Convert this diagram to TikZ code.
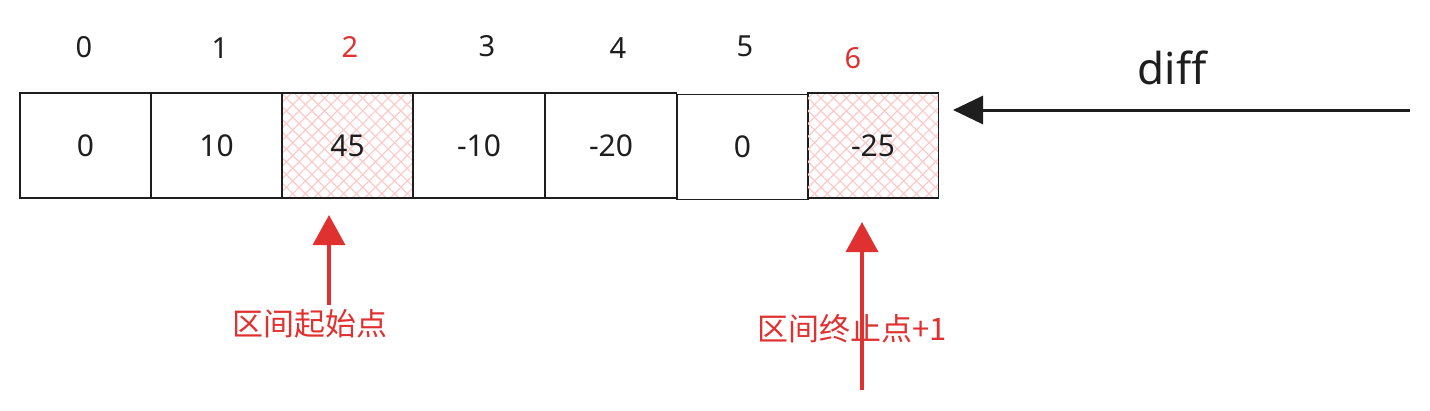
\documentclass[tikz,border=0pt]{standalone}
\usepackage{fontspec}
\setmainfont{Noto Sans}
\newfontfamily\cjk{Noto Sans CJK SC}
\usetikzlibrary{arrows.meta,patterns.meta}
\definecolor{exred}{HTML}{E03131}
\definecolor{hatch}{HTML}{FFC9C9}
\definecolor{ink}{HTML}{1E1E1E}
\tikzset{
  cell/.style={draw=ink,line width=1.8pt,minimum width=131pt,minimum height=105pt,inner sep=0pt,font=\fontsize{30}{34}\selectfont,text=ink},
  idx/.style={font=\fontsize{29}{34}\selectfont,text=ink},
  redidx/.style={font=\fontsize{29}{34}\selectfont,text=exred},
  redlbl/.style={font=\cjk\fontsize{31}{36}\selectfont,text=exred},
  redarrow/.style={draw=exred,line width=3.5pt,-{Triangle[length=30pt,width=32pt]}},
  blackarrow/.style={draw=ink,line width=3pt,-{Triangle[length=30pt,width=28pt]}},
  hatched/.style={preaction={pattern={Lines[angle=45,distance=9pt,line width=1.2pt]},pattern color=hatch},
                  preaction={pattern={Lines[angle=-45,distance=9pt,line width=1.2pt]},pattern color=hatch}}
}
\begin{document}
\begin{tikzpicture}[x=1pt,y=-1pt]
\useasboundingbox (0,0) rectangle (1430,410);
% cells
\node[cell] (c0) at (85.5,145.5) {0};
\node[cell] (c1) at (216.5,145.5) {10};
\node[cell,hatched] (c2) at (347.5,145.5) {45};
\node[cell] (c3) at (479,145.5) {-10};
\node[cell] (c4) at (611,145.5) {-20};
\node[cell] (c5) at (742.5,147) {0};
\node[cell,hatched] (c6) at (873,145.5) {-25};
% indices
\node[idx] (i0) at (84,47) {0};
\node[idx] (i1) at (220,48) {1};
\node[redidx] (i2) at (350,47) {2};
\node[idx] (i3) at (487,46) {3};
\node[idx] (i4) at (618,48) {4};
\node[idx] (i5) at (745,46) {5};
\node[redidx] (i6) at (853,58) {6};
% diff
\node[font=\fontsize{44}{50}\selectfont,text=ink] (diff) at (1172,68) {diff};
\coordinate (dstart) at (1410,110);
\coordinate (dend) at (953,110);
\draw[blackarrow] (dstart) -- (dend);
% red arrows
\coordinate (a1s) at (329,305);
\coordinate (a1e) at (329,215);
\draw[redarrow] (a1s) -- (a1e);
\node[redlbl] (l1) at (310,324) {区间起始点};
\coordinate (a2s) at (862,390);
\coordinate (a2e) at (862,222);
\draw[redarrow] (a2s) -- (a2e);
\node[redlbl] (l2) at (852,329) {区间终止点+1};
\end{tikzpicture}
\end{document}
